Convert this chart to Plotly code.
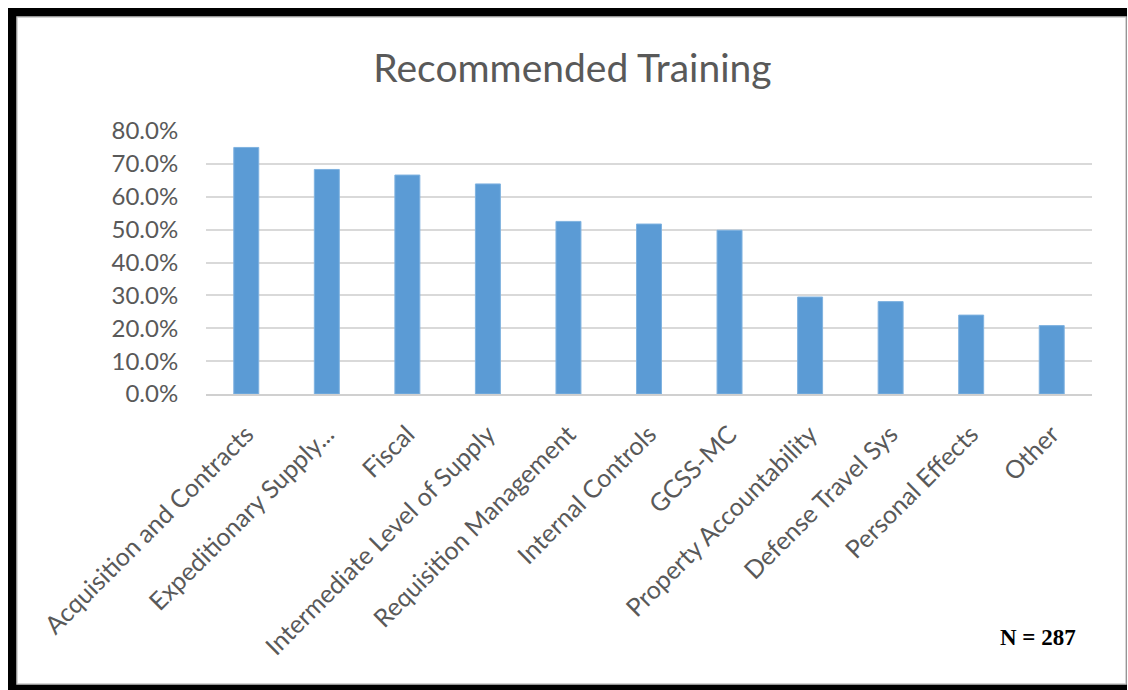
import plotly.graph_objects as go

# Survey results: share of respondents recommending each training topic
categories = [
    "Acquisition and Contracts",
    "Expeditionary Supply...",
    "Fiscal",
    "Intermediate Level of Supply",
    "Requisition Management",
    "Internal Controls",
    "GCSS-MC",
    "Property Accountability",
    "Defense Travel Sys",
    "Personal Effects",
    "Other",
]
percent = [0.750, 0.683, 0.666, 0.639, 0.525, 0.517, 0.498, 0.295, 0.281, 0.240, 0.208]
y_ticks = [0.0, 0.1, 0.2, 0.3, 0.4, 0.5, 0.6, 0.7, 0.8]
sample_note = "N = 287"

W, H = 1128, 690
L, R, T, B = 206, 36, 131, 296
PW, PH = W - L - R, H - T - B


def px_x(px):
    return (px - L) / PW


def px_y(py):
    return (H - B - py) / PH


TEXT = "#595959"
FONT = "Lato"

fig = go.Figure(
    go.Bar(
        x=categories,
        y=percent,
        width=0.31,
        marker=dict(color="#5B9BD5", line=dict(color="#7FB2E0", width=1)),
    )
)

shapes = [
    # black frame
    dict(type="rect", xref="paper", yref="paper", layer="below",
         x0=px_x(8), x1=px_x(1127), y0=px_y(8), y1=px_y(700),
         fillcolor="black", line=dict(width=0)),
    # white chart area with light border
    dict(type="rect", xref="paper", yref="paper", layer="below",
         x0=px_x(17), x1=px_x(1126), y0=px_y(17), y1=px_y(684),
         fillcolor="white", line=dict(color="#C8C8C8", width=1.5)),
]

fig.update_layout(
    width=W,
    height=H,
    margin=dict(l=L, r=R, t=T, b=B),
    paper_bgcolor="white",
    plot_bgcolor="rgba(0,0,0,0)",
    showlegend=False,
    shapes=shapes,
    title=dict(
        text="Recommended Training",
        x=572.5 / W, xref="container", xanchor="center",
        y=1 - 68 / H, yref="container", yanchor="middle",
        font=dict(family=FONT, size=39, color=TEXT),
    ),
    xaxis=dict(
        tickangle=-45,
        tickfont=dict(family=FONT, size=25, color=TEXT),
        showgrid=False,
        showline=True,
        linecolor="#D0D0D0",
        linewidth=1.5,
        ticks="outside",
        ticklen=14,
        tickcolor="rgba(0,0,0,0)",
        zeroline=False,
    ),
    yaxis=dict(
        range=[0, 0.8],
        tickvals=y_ticks,
        tickformat=".1%",
        tickfont=dict(family=FONT, size=24, color=TEXT),
        showgrid=True,
        gridcolor="#D9D9D9",
        gridwidth=1.5,
        zeroline=False,
        showline=False,
        ticks="outside",
        ticklen=22,
        tickcolor="rgba(0,0,0,0)",
    ),
    annotations=[
        dict(
            text=f"<b>{sample_note}</b>",
            xref="paper", yref="paper",
            x=px_x(1078), y=px_y(637),
            xanchor="right", yanchor="middle",
            showarrow=False,
            font=dict(family="Liberation Serif", size=23, color="black"),
        )
    ],
)

fig.write_html("out.html")
